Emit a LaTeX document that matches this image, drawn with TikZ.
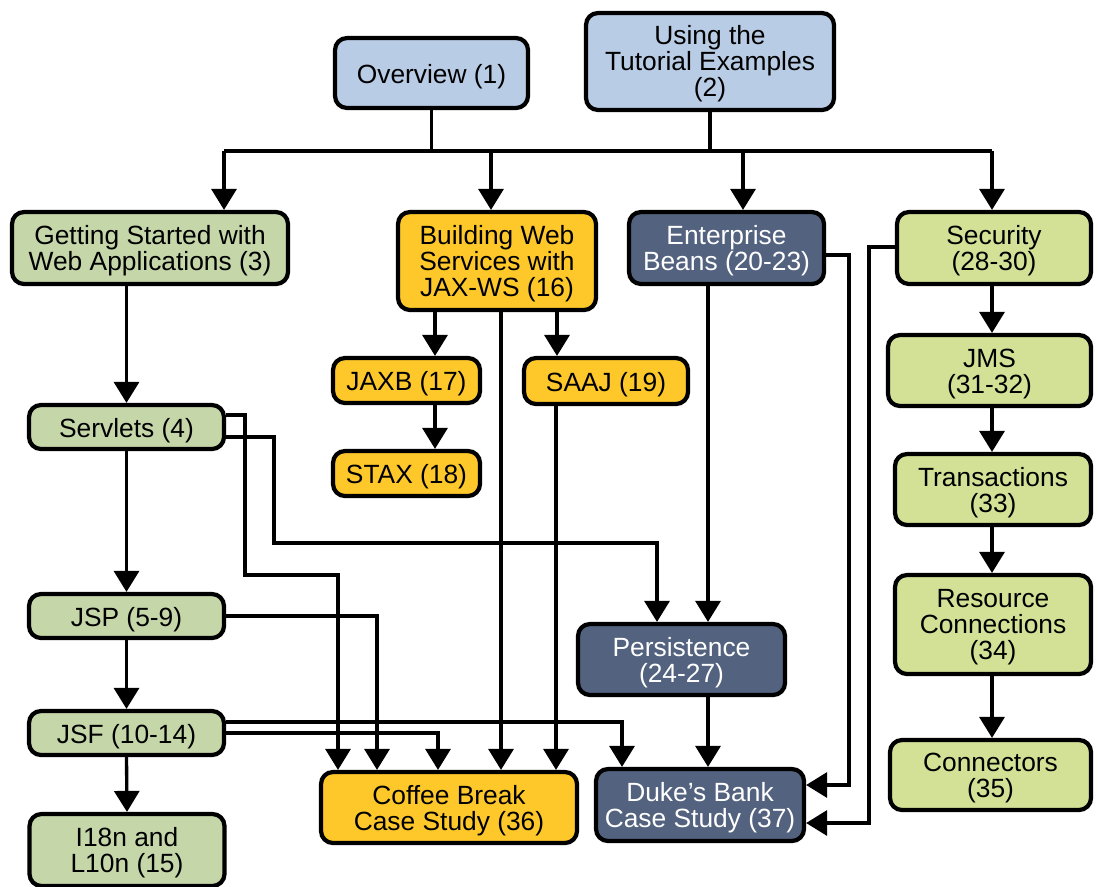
\documentclass[tikz,border=0pt]{standalone}
\usepackage{fontspec}
\setmainfont{Liberation Sans}
\usetikzlibrary{arrows.meta}
\definecolor{cblue}{HTML}{B9CCE5}
\definecolor{cgray}{HTML}{C5D6A9}
\definecolor{cyel}{HTML}{FEC82A}
\definecolor{cdark}{HTML}{53627F}
\definecolor{clime}{HTML}{D3E197}
\newcommand\boxrh{15pt}
\tikzset{
  box/.style={draw=black, line width=2.4pt, rounded corners=0.24cm, align=center,
    inner sep=0pt, font=\fontsize{15}{14.8}\selectfont, text=black,
    execute at begin node={\rule{0pt}{\boxrh}}},
  twolines/.code={\def\boxrh{29pt}},
  threelines/.code={\def\boxrh{43pt}},
  darkbox/.style={box, fill=cdark, text=white},
  sz/.style 2 args={minimum width=#1*0.02cm, minimum height=#2*0.02cm},
  conn/.style={line width=1.9pt},
  arr/.style={conn, -{Triangle[length=0.42cm,width=0.5cm]}}
}
\begin{document}
\begin{tikzpicture}[x=0.02cm,y=-0.02cm]
\useasboundingbox (0,0) rectangle (1098,886);
% nodes
\node[box,fill=cblue,sz={193}{70}] (ov) at (431.5,73) {Overview (1)};
\node[box,threelines,fill=cblue,sz={248}{97}] (ut) at (710,61.5) {Using the\\Tutorial Examples\\(2)};
\node[box,twolines,fill=cgray,sz={276}{72}] (gs) at (150,248) {Getting Started with\\Web Applications (3)};
\node[box,threelines,fill=cyel,sz={198}{98}] (bw) at (497,261) {Building Web\\Services with\\JAX-WS (16)};
\node[darkbox,twolines,sz={195}{72}] (eb) at (726.5,248) {Enterprise\\Beans (20-23)};
\node[box,twolines,fill=clime,sz={194}{72}] (sec) at (994,248) {Security\\(28-30)};
\node[box,fill=cyel,sz={147}{45}] (jaxb) at (406.5,380.5) {JAXB (17)};
\node[box,fill=cyel,sz={164}{46}] (saaj) at (606,381) {SAAJ (19)};
\node[box,fill=cyel,sz={147}{45}] (stax) at (406.5,473.5) {STAX (18)};
\node[box,fill=cgray,sz={195}{44}] (srv) at (126.5,427) {Servlets (4)};
\node[box,fill=cgray,sz={195}{44}] (jsp) at (126.5,616) {JSP (5-9)};
\node[box,fill=cgray,sz={195}{44}] (jsf) at (126.5,733) {JSF (10-14)};
\node[box,twolines,fill=cgray,sz={195}{72}] (i18n) at (127,850) {I18n and\\L10n (15)};
\node[box,twolines,fill=clime,sz={203}{71}] (jms) at (989.5,370.5) {JMS\\(31-32)};
\node[box,twolines,fill=clime,sz={196}{71}] (tr) at (993,489.5) {Transactions\\(33)};
\node[box,threelines,fill=clime,sz={196}{99}] (rc) at (993,624.5) {Resource\\Connections\\(34)};
\node[box,twolines,fill=clime,sz={201}{70}] (con) at (990.5,775) {Connectors\\(35)};
\node[darkbox,twolines,sz={207}{71}] (per) at (681.5,659.5) {Persistence\\(24-27)};
\node[box,twolines,fill=cyel,sz={256}{71}] (cb) at (449,807.5) {Coffee Break\\Case Study (36)};
\node[darkbox,twolines,sz={208}{72}] (db) at (700,805) {Duke’s Bank\\Case Study (37)};
% bend coordinates
\coordinate (bA) at (224,151);
\coordinate (bB) at (491,151);
\coordinate (bC) at (743,151);
\coordinate (bD) at (992,151);
\coordinate (rx) at (992,0);
\coordinate (k1) at (435,0);
\coordinate (k2) at (557,0);
\coordinate (k3) at (501,0);
\coordinate (k4) at (556,0);
\coordinate (gx) at (126.5,0);
\coordinate (s1) at (245,415);
\coordinate (s2) at (245,575);
\coordinate (s3) at (338,575);
\coordinate (p1) at (274,437);
\coordinate (p2) at (274,543);
\coordinate (p3) at (657,543);
\coordinate (j1) at (377,616);
\coordinate (f1) at (622,722);
\coordinate (f2) at (438,733);
\coordinate (ex) at (708,0);
\coordinate (e1) at (849,255);
\coordinate (e2) at (849,785);
\coordinate (q1) at (869,247);
\coordinate (q2) at (869,823);
% top bus
\draw[conn] (ov.south) -- (ov.south |- bA);
\draw[conn] (ut.south) -- (ut.south |- bA);
\draw[conn] (bA) -- (bD);
\draw[arr] (bA) -- (bA |- gs.north);
\draw[arr] (bB) -- (bB |- bw.north);
\draw[arr] (bC) -- (bC |- eb.north);
\draw[arr] (bD) -- (bD |- sec.north);
% left column
\draw[arr] (gx |- gs.south) -- (srv.north);
\draw[arr] (srv.south) -- (jsp.north);
\draw[arr] (jsp.south) -- (jsf.north);
\draw[arr] (jsf.south) -- (i18n.north);
% web services
\draw[arr] (k1 |- bw.south) -- (k1 |- jaxb.north);
\draw[arr] (k1 |- jaxb.south) -- (k1 |- stax.north);
\draw[arr] (k2 |- bw.south) -- (k2 |- saaj.north);
\draw[arr] (k3 |- bw.south) -- (k3 |- cb.north);
\draw[arr] (k4 |- saaj.south) -- (k4 |- cb.north);
% web tier to case studies
\draw[arr] (srv.east |- s1) -- (s1) -- (s2) -- (s3) -- (s3 |- cb.north);
\draw[arr] (srv.east |- p1) -- (p1) -- (p2) -- (p3) -- (p3 |- per.north);
\draw[arr] (jsp.east |- j1) -- (j1) -- (j1 |- cb.north);
\draw[arr] (jsf.east |- f1) -- (f1) -- (f1 |- db.north);
\draw[arr] (jsf.east |- f2) -- (f2) -- (f2 |- cb.north);
% enterprise
\draw[arr] (ex |- eb.south) -- (ex |- per.north);
\draw[arr] (ex |- per.south) -- (ex |- db.north);
\draw[arr] (eb.east |- e1) -- (e1) -- (e2) -- (db.east |- e2);
\draw[arr] (sec.west |- q1) -- (q1) -- (q2) -- (db.east |- q2);
% right column
\draw[arr] (rx |- sec.south) -- (rx |- jms.north);
\draw[arr] (rx |- jms.south) -- (rx |- tr.north);
\draw[arr] (rx |- tr.south) -- (rx |- rc.north);
\draw[arr] (rx |- rc.south) -- (rx |- con.north);
\end{tikzpicture}
\end{document}
